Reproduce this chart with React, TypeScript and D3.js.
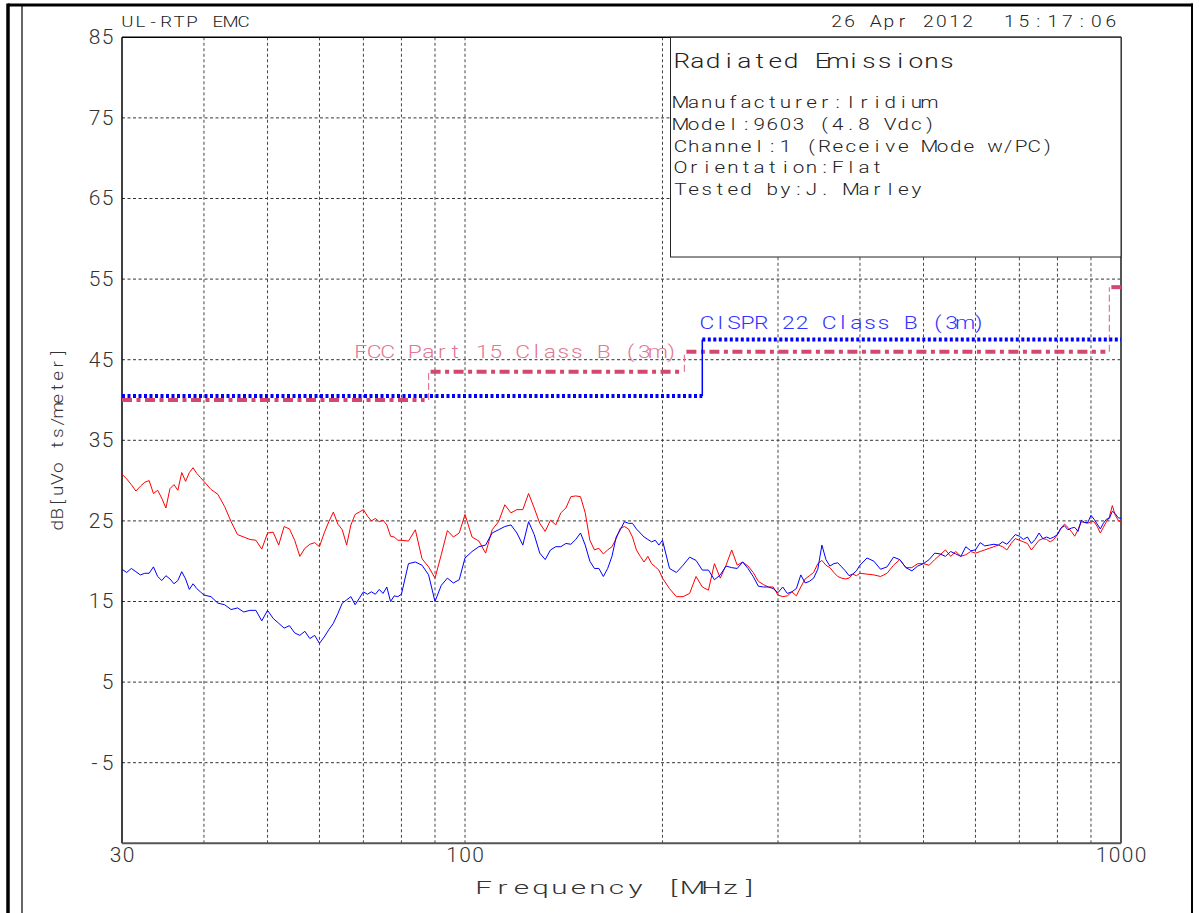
import React from 'react';
import * as d3 from 'd3';

// ---------- Data ----------
const freqMHz = [
  30, 30.5, 31, 31.5, 32, 32.5, 33, 33.5, 34, 34.5, 35, 35.5, 36, 36.5, 37, 37.5, 38, 38.5, 39, 39.5, 40,
  41, 42, 43, 44, 45, 46, 47, 48, 49, 50, 51, 52, 53, 54, 55, 56, 57, 58, 59, 60,
  61, 62, 63, 64, 65, 66, 67, 68, 69, 70, 71, 72, 73, 74, 75, 76, 77, 78, 79, 80,
  82, 84, 86, 88, 90, 92, 94, 96, 98, 100,
  102.5, 105, 107.5, 110, 112.5, 115, 117.5, 120, 122.5, 125, 127.5, 130, 132.5, 135, 137.5, 140, 142.5, 145, 147.5, 150,
  152.5, 155, 157.5, 160, 162.5, 165, 167.5, 170, 172.5, 175, 177.5, 180, 182.5, 185, 187.5, 190, 192.5, 195, 197.5, 200,
  205, 210, 215, 220, 225, 230, 235, 240, 245, 250, 255, 260, 265, 270, 275, 280, 285, 290, 295, 300,
  305, 310, 315, 320, 325, 330, 335, 340, 345, 350, 355, 360, 365, 370, 375, 380, 385, 390, 395, 400,
  410, 420, 430, 440, 450, 460, 470, 480, 490, 500, 510, 520, 530, 540, 550, 560, 570, 580, 590, 600,
  610, 620, 630, 640, 650, 660, 670, 680, 690, 700, 710, 720, 730, 740, 750, 760, 770, 780, 790, 800,
  810, 820, 830, 840, 850, 860, 870, 880, 890, 900, 910, 920, 930, 940, 950, 960, 970, 980, 990, 1000,
];

// Horizontal polarisation trace (red)
const redTrace = [
  30.8, 30.2, 29.5, 28.7, 29.3, 29.8, 30.0, 28.4, 28.8, 27.8, 26.6, 29.0, 29.5, 28.8, 31.0, 29.9, 31.0, 31.6, 30.9, 30.4, 29.9,
  28.9, 28.3, 26.8, 24.9, 23.3, 23.0, 22.7, 22.6, 21.5, 23.5, 23.6, 22.0, 24.3, 24.0, 22.6, 20.6, 21.6, 22.1, 22.3, 21.8,
  23.5, 24.9, 26.1, 24.6, 23.9, 22.0, 24.5, 25.8, 26.1, 26.4, 25.6, 25.0, 25.3, 24.9, 25.1, 24.5, 23.1, 23.0, 22.6, 22.6,
  22.5, 23.9, 20.3, 19.3, 17.9, 20.8, 23.8, 23.0, 23.5, 25.8,
  23.0, 22.5, 21.0, 23.9, 24.9, 27.0, 26.0, 26.4, 26.4, 28.4, 26.6, 24.7, 23.7, 25.1, 24.5, 26.0, 26.6, 28.0, 28.1, 28.0,
  26.0, 22.6, 21.4, 21.6, 20.9, 21.4, 21.8, 22.8, 24.1, 24.3, 24.0, 23.0, 21.4, 20.6, 19.9, 20.6, 19.7, 19.3, 18.9, 17.9,
  16.6, 15.6, 15.6, 16.0, 18.1, 16.8, 16.4, 19.7, 17.9, 19.5, 21.4, 19.5, 19.9, 19.4, 18.6, 17.5, 17.1, 16.8, 16.8, 15.8,
  15.6, 15.7, 16.2, 15.7, 16.8, 17.8, 18.2, 18.6, 19.7, 20.1, 19.5, 19.2, 18.6, 18.1, 17.9, 17.8, 17.9, 18.4, 18.2, 18.5,
  18.4, 18.3, 18.1, 18.5, 19.5, 20.2, 19.2, 19.2, 19.7, 19.7, 19.5, 20.2, 20.8, 21.4, 20.6, 21.2, 20.6, 20.8, 21.2, 21.0,
  21.2, 21.4, 21.6, 21.8, 22.0, 21.8, 21.4, 22.2, 22.8, 22.6, 22.4, 22.2, 21.4, 22.0, 22.6, 22.8, 22.7, 22.4, 22.7, 23.3,
  24.1, 24.6, 24.2, 23.7, 23.1, 23.9, 24.9, 24.8, 24.7, 24.9, 24.9, 24.3, 23.5, 24.2, 24.9, 25.5, 26.9, 25.7, 25.1, 24.8,
];

// Vertical polarisation trace (blue)
const blueTrace = [
  19.0, 18.6, 19.1, 18.7, 18.3, 18.5, 18.5, 19.3, 18.1, 17.6, 18.2, 17.8, 17.2, 17.6, 18.7, 17.8, 16.5, 17.2, 16.6, 16.2, 15.8,
  15.6, 14.8, 14.6, 14.0, 14.2, 13.7, 13.9, 13.9, 12.6, 13.9, 12.9, 12.3, 11.7, 12.0, 11.1, 10.8, 11.3, 10.4, 10.8, 9.8,
  10.6, 11.5, 12.3, 13.5, 14.8, 15.2, 15.6, 14.6, 15.4, 16.2, 15.9, 16.2, 15.9, 16.5, 16.0, 16.8, 15.0, 15.7, 15.6, 15.9,
  19.7, 19.9, 19.5, 18.3, 15.0, 17.0, 17.9, 17.3, 17.7, 20.4,
  21.2, 21.8, 22.0, 23.5, 23.9, 24.3, 24.5, 23.5, 22.0, 24.9, 23.3, 21.0, 20.2, 21.4, 21.8, 21.8, 22.2, 22.1, 22.7, 23.5,
  22.0, 20.0, 19.1, 19.1, 18.1, 19.1, 20.6, 23.0, 23.9, 24.9, 24.7, 24.7, 24.0, 23.5, 23.0, 22.7, 22.4, 22.6, 22.0, 22.6,
  19.1, 18.6, 19.5, 20.5, 20.1, 18.9, 18.9, 17.7, 18.3, 19.4, 19.2, 19.1, 19.9, 19.1, 18.1, 16.9, 16.8, 16.8, 16.6, 16.1,
  16.8, 16.0, 16.2, 16.6, 18.3, 17.3, 17.5, 17.9, 19.0, 22.0, 20.2, 19.4, 19.7, 19.8, 19.3, 18.8, 18.2, 18.4, 18.8, 19.5,
  20.4, 20.0, 19.0, 19.3, 20.5, 20.2, 19.2, 18.8, 19.4, 19.7, 20.2, 21.0, 20.9, 20.6, 21.2, 20.9, 20.6, 21.8, 21.3, 21.4,
  22.3, 21.9, 22.0, 22.1, 22.0, 22.4, 22.1, 22.7, 23.3, 23.1, 22.7, 23.0, 22.2, 22.7, 23.5, 22.8, 23.0, 22.8, 23.0, 23.3,
  24.1, 24.4, 23.9, 24.1, 24.2, 23.7, 25.1, 24.8, 24.8, 25.7, 25.2, 24.6, 24.0, 24.7, 25.2, 25.3, 26.2, 25.9, 25.4, 25.3,
];

// Limit lines
const fccStartMHz = [30, 88, 216, 960];
const fccEndMHz = [88, 216, 960, 1000];
const fccLevel = [40, 43.5, 46, 54];

const cisprStartMHz = [30, 230];
const cisprEndMHz = [230, 1000];
const cisprLevel = [40.5, 47.5];

// Axes
const yTicks = [85, 75, 65, 55, 45, 35, 25, 15, 5, -5];
const yGrid = [75, 65, 55, 45, 35, 25, 15, 5, -5];
const xTickLabels = [30, 100, 1000];
const xGrid = [40, 50, 60, 70, 80, 90, 100, 200, 300, 400, 500, 600, 700, 800, 900];

const legendLines = [
  'Manufacturer:Iridium',
  'Model:9603 (4.8 Vdc)',
  'Channel:1 (Receive Mode w/PC)',
  'Orientation:Flat',
  'Tested by:J. Marley',
];

const FONT = "Roboto, 'DejaVu Sans', sans-serif";

// Plotter-style monospace text: each character centred in its own cell,
// glyphs optionally widened by a horizontal stretch.
function MonoText(props: {
  x: number;
  y: number;
  text: string;
  cell: number;
  size: number;
  fill: string;
  stretch?: number;
  transform?: string;
}) {
  const { x, y, text, cell, size, fill, transform } = props;
  const sx = props.stretch ?? 1;
  const xs = text.split('').map((_, i) => ((x + cell * (i + 0.5)) / sx).toFixed(2));
  const tf = `${transform ?? ''} scale(${sx},1)`.trim();
  return (
    <text
      x={xs.join(' ')}
      y={y}
      transform={tf}
      textAnchor="middle"
      fontFamily={FONT}
      fontWeight={300}
      fontSize={size}
      fill={fill}
      style={{ whiteSpace: 'pre' }}
    >
      {text}
    </text>
  );
}

export default function App() {
  const W = 1199;
  const H = 913;
  const left = 122;
  const right = 1121;
  const top = 37.3;
  const bottom = 843.3;

  const x = d3.scaleLog().domain([30, 1000]).range([left, right]);
  const y = d3.scaleLinear().domain([-15, 85]).range([bottom, top]);

  const line = d3
    .line<number>()
    .x((_, i) => x(freqMHz[i]))
    .y((d) => y(d));

  const redPath = line(redTrace) || '';
  const bluePath = line(blueTrace) || '';

  const cell = 13;

  return (
    <div style={{ position: 'absolute', left: 0, top: 0 }}>
      <svg width={W} height={H} style={{ display: 'block', background: '#fff' }}>
        <rect x={0} y={0} width={W} height={H} fill="#fff" />
        {/* page frame */}
        <line x1={8} y1={5} x2={1193} y2={5} stroke="#000" strokeWidth={3} />
        <line x1={8} y1={3.5} x2={8} y2={H} stroke="#000" strokeWidth={3.5} />
        <line x1={22} y1={5} x2={22} y2={H} stroke="#000" strokeWidth={1.2} />
        <line x1={1192} y1={3.5} x2={1192} y2={H} stroke="#000" strokeWidth={2} />

        {/* grid */}
        {yGrid.map((v) => (
          <line key={'yg' + v} x1={left} x2={right} y1={y(v)} y2={y(v)} stroke="#333" strokeWidth={1} strokeDasharray="3,2.5" />
        ))}
        {xGrid.map((f) => (
          <line key={'xg' + f} x1={x(f)} x2={x(f)} y1={top} y2={bottom} stroke="#444" strokeWidth={1} strokeDasharray="3,2.5" />
        ))}

        {/* plot frame */}
        <line x1={left} x2={right} y1={top} y2={top} stroke="#000" strokeWidth={1.5} />
        <line x1={left} x2={left} y1={top} y2={bottom} stroke="#000" strokeWidth={1.5} />
        <line x1={left} x2={right} y1={bottom} y2={bottom} stroke="#555" strokeWidth={2} />
        <line x1={right} x2={right} y1={top} y2={bottom} stroke="#555" strokeWidth={2} />

        {/* FCC limit */}
        {fccLevel.map((lv, i) => (
          <line
            key={'fcc' + i}
            x1={x(fccStartMHz[i]) + (i === 0 ? 0 : 2)}
            x2={x(fccEndMHz[i]) - (i === fccLevel.length - 1 ? 0 : 4)}
            y1={y(lv)}
            y2={y(lv)}
            stroke="#d4476e"
            strokeWidth={4}
            strokeDasharray="10,4.5,4,4.5"
          />
        ))}
        {fccLevel.slice(1).map((lv, i) => (
          <line
            key={'fccv' + i}
            x1={x(fccStartMHz[i + 1])}
            x2={x(fccStartMHz[i + 1])}
            y1={y(fccLevel[i])}
            y2={y(lv)}
            stroke="#e27893"
            strokeWidth={1.2}
            strokeDasharray="7,3"
          />
        ))}

        {/* CISPR limit */}
        {cisprLevel.map((lv, i) => (
          <line
            key={'cis' + i}
            x1={x(cisprStartMHz[i])}
            x2={x(cisprEndMHz[i])}
            y1={y(lv)}
            y2={y(lv)}
            stroke="#0000ff"
            strokeWidth={4}
            strokeDasharray="3,2.5"
          />
        ))}
        {cisprLevel.slice(1).map((lv, i) => (
          <line
            key={'cisv' + i}
            x1={x(cisprStartMHz[i + 1])}
            x2={x(cisprStartMHz[i + 1])}
            y1={y(cisprLevel[i])}
            y2={y(lv)}
            stroke="#0000ff"
            strokeWidth={1.5}
          />
        ))}

        {/* traces */}
        <path d={redPath} fill="none" stroke="#ff0000" strokeWidth={1} strokeLinejoin="round" />
        <path d={bluePath} fill="none" stroke="#0000ff" strokeWidth={1} strokeLinejoin="round" />

        {/* limit labels */}
        <MonoText x={354} y={358.5} text="FCC Part 15 Class B (3m)" cell={13.5} size={19} stretch={1.2} fill="#e27893" />
        <MonoText x={700} y={329.5} text="CISPR 22 Class B (3m)" cell={13.6} size={19} stretch={1.2} fill="#3333ff" />

        {/* legend box */}
        <rect x={670.5} y={top} width={right - 670.5} height={257 - top} fill="#fff" stroke="#222" strokeWidth={1} />
        <MonoText x={674} y={68} text="Radiated Emissions" cell={15.6} size={21} stretch={1.25} fill="#222" />
        {legendLines.map((t, i) => (
          <MonoText key={t} x={674} y={108.3 + i * 21.7} text={t} cell={13.1} size={16.5} stretch={1.25} fill="#222" />
        ))}

        {/* header texts */}
        <MonoText x={121} y={27.3} text="UL-RTP EMC" cell={12.9} size={15.5} stretch={1.2} fill="#222" />
        <MonoText x={830} y={26.7} text="26 Apr 2012" cell={13.1} size={16} stretch={1.2} fill="#222" />
        <MonoText x={1002} y={26.7} text="15:17:06" cell={14.5} size={16} stretch={1.2} fill="#222" />

        {/* y tick labels */}
        {yTicks.map((v) => {
          const s = String(v);
          return (
            <MonoText key={'yt' + v} x={114 - s.length * cell} y={y(v) + 7} text={s} cell={cell} size={20} stretch={1.05} fill="#333" />
          );
        })}

        {/* x tick labels */}
        {xTickLabels.map((f) => {
          const s = String(f);
          return (
            <MonoText key={'xt' + f} x={x(f) - (s.length * cell) / 2} y={862} text={s} cell={cell} size={20} stretch={1.05} fill="#333" />
          );
        })}

        {/* axis titles */}
        <MonoText x={474} y={894} text="Frequency [MHz]" cell={19} size={18.5} stretch={1.6} fill="#333" />
        <MonoText transform="translate(63,531) rotate(-90)" x={0} y={0} text="dB[uVo ts/meter]" cell={11.5} size={16.5} stretch={1.15} fill="#333" />
      </svg>
    </div>
  );
}
